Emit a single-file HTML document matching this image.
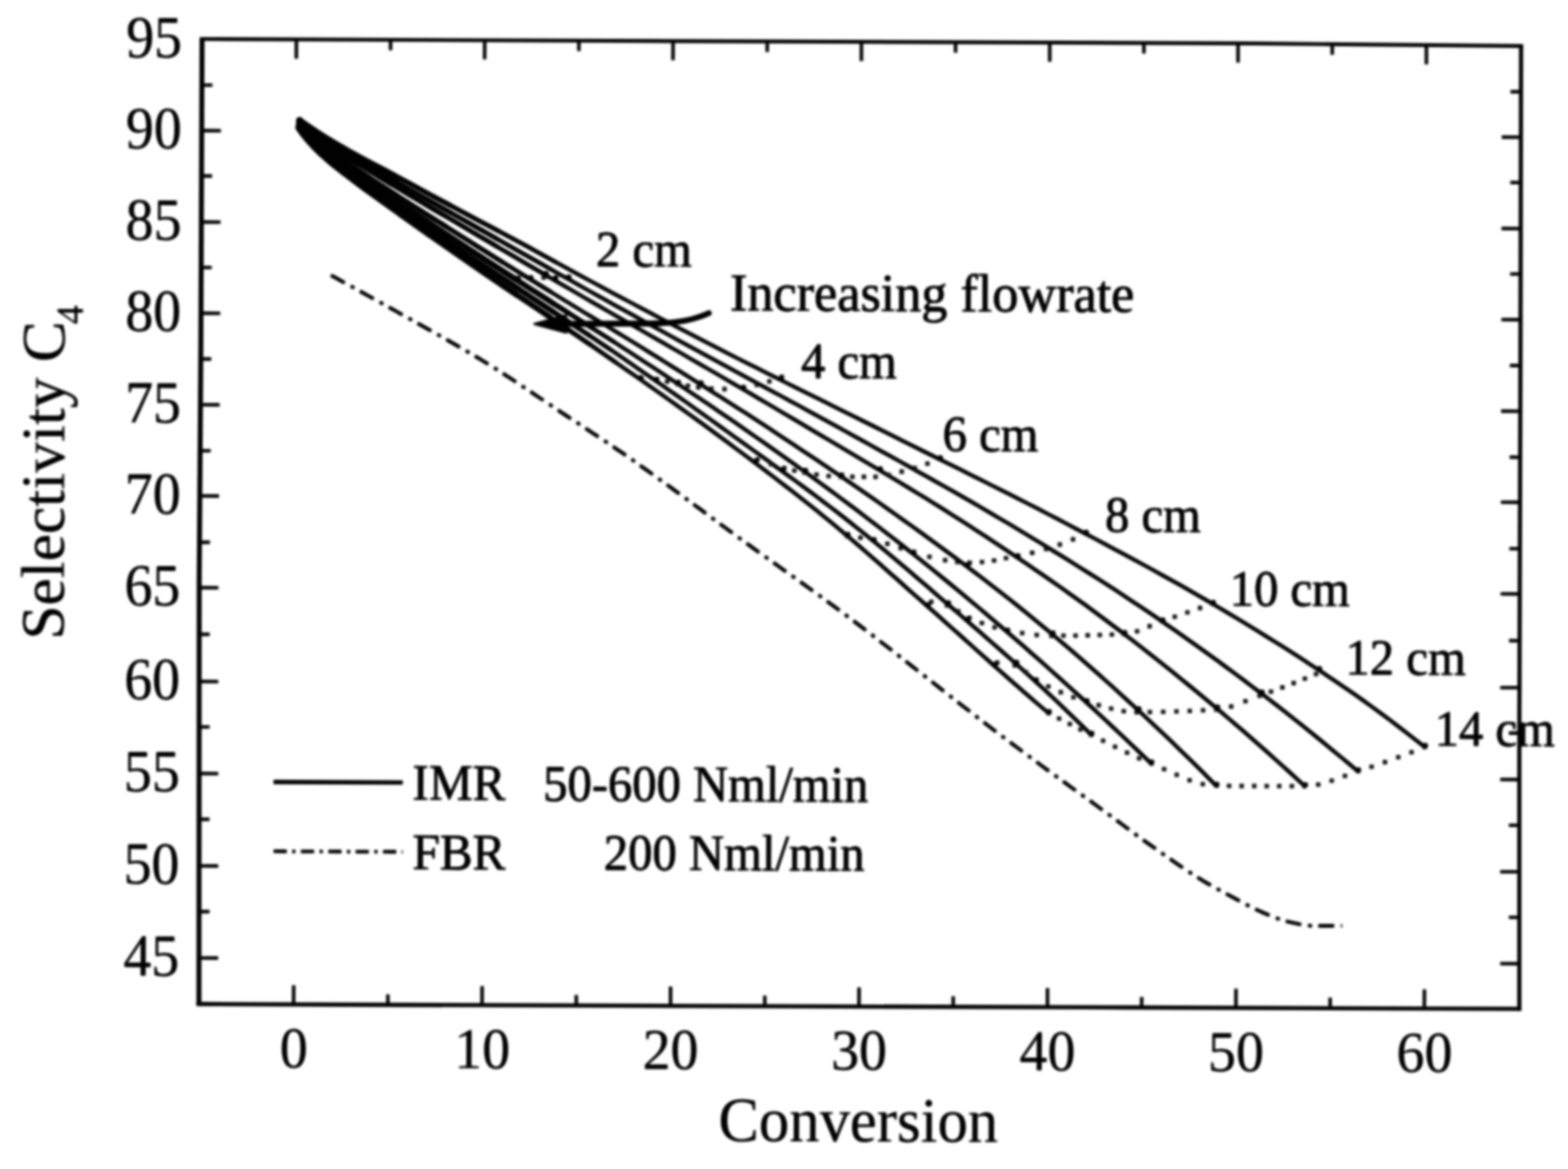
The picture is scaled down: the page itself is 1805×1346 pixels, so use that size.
<!DOCTYPE html>
<html lang="en">
<head>
<meta charset="utf-8">
<title>Selectivity C4 vs Conversion</title>
<style>
html,body{margin:0;padding:0;background:#fff;}
body{width:1805px;height:1346px;overflow:hidden;}
svg{display:block;}
svg text{font-family:"Liberation Serif","Times New Roman",Times,serif;fill:#050505;}
</style>
</head>
<body>
<svg xmlns="http://www.w3.org/2000/svg" width="1805" height="1346" viewBox="0 0 1805 1346">
<defs>
<filter id="scan" x="0" y="0" width="1805" height="1346" filterUnits="userSpaceOnUse" color-interpolation-filters="sRGB">
<feGaussianBlur stdDeviation="1.5"/>
<feComponentTransfer>
<feFuncR type="gamma" amplitude="1" exponent="1.25" offset="0"/>
<feFuncG type="gamma" amplitude="1" exponent="1.25" offset="0"/>
<feFuncB type="gamma" amplitude="1" exponent="1.25" offset="0"/>
</feComponentTransfer>
</filter>
</defs>
<g filter="url(#scan)">
<rect width="1805" height="1346" fill="#fff"/>
<path d="M230 44.9 L900 47.8 L1444 50 L1753.1 53" fill="none" stroke="#050505" stroke-width="3.9"/>
<path d="M1751 51.1 L1750.3 400 L1749 835 L1749 1163.7" fill="none" stroke="#050505" stroke-width="4.3"/>
<path d="M1751.1 1161.6 L1300 1160 L900 1158.6 L450 1157 L226.4 1156" fill="none" stroke="#050505" stroke-width="4.3"/>
<path d="M229 1158.1 L229.3 670 L231.2 400 L232.6 43" fill="none" stroke="#050505" stroke-width="5.2"/>
<path d="M232.4 98L244.4 98 M1750.9 105.6L1738.9 105.6 M232.2 150.4L254.2 150.5 M1750.8 158L1728.8 157.9 M232 202.6L244 202.6 M1750.7 210.2L1738.7 210.1 M231.8 255.6L253.8 255.7 M1750.6 263.2L1728.6 263.1 M231.6 308L243.6 308 M1750.5 315.5L1738.5 315.5 M231.4 360.6L253.4 360.7 M1750.4 368.1L1728.4 368 M231.1 413.4L243.1 413.4 M1750.2 420.9L1738.2 420.9 M230.7 466L252.7 466.1 M1750.1 473.5L1728.1 473.4 M230.4 519L242.4 519 M1749.9 526.5L1737.9 526.4 M230 571L252 571.1 M1749.8 578.4L1727.8 578.3 M229.6 624.4L241.6 624.4 M1749.6 631.8L1737.6 631.7 M229.3 676.6L251.3 676.7 M1749.5 683.9L1727.5 683.8 M229.3 730.4L241.3 730.4 M1749.3 737.7L1737.3 737.6 M229.2 784.6L251.2 784.7 M1749.1 791.8L1727.1 791.7 M229.2 837L241.2 837 M1749 844.1L1737 844.1 M229.2 890.6L251.2 890.7 M1749 897.6L1727 897.5 M229.1 943.4L241.1 943.4 M1749 950.3L1737 950.3 M229.1 997L251.1 997.1 M1749 1003.8L1727 1003.7 M229.1 1049.6L241.1 1049.6 M1749 1056.3L1737 1056.3 M229 1103L251 1103.1 M1749 1109.6L1727 1109.5 M338 1156.5L338.1 1134.5 M341.2 45.4L341.1 67.4 M446.5 1157L446.5 1145 M449.6 45.8L449.6 57.8 M554.9 1157.4L555 1135.4 M558 46.3L557.9 68.3 M663.4 1157.8L663.4 1145.8 M666.4 46.8L666.4 58.8 M771.9 1158.1L771.9 1136.1 M774.8 47.3L774.7 69.3 M880.4 1158.5L880.4 1146.5 M883.2 47.7L883.2 59.7 M988.8 1158.9L988.9 1136.9 M991.6 48.2L991.6 70.2 M1097.3 1159.3L1097.3 1147.3 M1100 48.6L1100 60.6 M1205.8 1159.7L1205.8 1137.7 M1208.4 49L1208.4 71 M1314.2 1160.1L1314.3 1148.1 M1316.8 49.5L1316.8 61.5 M1422.7 1160.4L1422.8 1138.4 M1425.2 49.9L1425.2 71.9 M1531.2 1160.8L1531.2 1148.8 M1533.6 50.9L1533.6 62.9 M1639.6 1161.2L1639.7 1139.2 M1642 51.9L1642 73.9" fill="none" stroke="#050505" stroke-width="3.6"/>
<text x="141.9" y="1123.3" font-size="68.8" textLength="64.3" lengthAdjust="spacingAndGlyphs" transform="rotate(0.2 141.9 1123.3)">45</text>
<text x="142.2" y="1017.3" font-size="68.8" textLength="64.3" lengthAdjust="spacingAndGlyphs" transform="rotate(0.2 142.2 1017.3)">50</text>
<text x="142.5" y="910.9" font-size="68.8" textLength="64.3" lengthAdjust="spacingAndGlyphs" transform="rotate(0.2 142.5 910.9)">55</text>
<text x="142.9" y="804.9" font-size="68.8" textLength="64.3" lengthAdjust="spacingAndGlyphs" transform="rotate(0.2 142.9 804.9)">60</text>
<text x="143.2" y="696.9" font-size="68.8" textLength="64.3" lengthAdjust="spacingAndGlyphs" transform="rotate(0.2 143.2 696.9)">65</text>
<text x="143.5" y="591.3" font-size="68.8" textLength="64.3" lengthAdjust="spacingAndGlyphs" transform="rotate(0.2 143.5 591.3)">70</text>
<text x="143.9" y="486.3" font-size="68.8" textLength="64.3" lengthAdjust="spacingAndGlyphs" transform="rotate(0.2 143.9 486.3)">75</text>
<text x="144.2" y="380.9" font-size="68.8" textLength="64.3" lengthAdjust="spacingAndGlyphs" transform="rotate(0.2 144.2 380.9)">80</text>
<text x="144.5" y="275.9" font-size="68.8" textLength="64.3" lengthAdjust="spacingAndGlyphs" transform="rotate(0.2 144.5 275.9)">85</text>
<text x="144.8" y="170.7" font-size="68.8" textLength="64.3" lengthAdjust="spacingAndGlyphs" transform="rotate(0.2 144.8 170.7)">90</text>
<text x="145.2" y="65.9" font-size="68.8" textLength="64.3" lengthAdjust="spacingAndGlyphs" transform="rotate(0.2 145.2 65.9)">95</text>
<text x="321.9" y="1229" font-size="66.5" textLength="32.2" lengthAdjust="spacingAndGlyphs" transform="rotate(0.2 321.9 1229)">0</text>
<text x="522.8" y="1229.8" font-size="66.5" textLength="64.3" lengthAdjust="spacingAndGlyphs" transform="rotate(0.2 522.8 1229.8)">10</text>
<text x="739.7" y="1230.7" font-size="66.5" textLength="64.3" lengthAdjust="spacingAndGlyphs" transform="rotate(0.2 739.7 1230.7)">20</text>
<text x="956.7" y="1231.5" font-size="66.5" textLength="64.3" lengthAdjust="spacingAndGlyphs" transform="rotate(0.2 956.7 1231.5)">30</text>
<text x="1173.6" y="1232.3" font-size="66.5" textLength="64.3" lengthAdjust="spacingAndGlyphs" transform="rotate(0.2 1173.6 1232.3)">40</text>
<text x="1390.5" y="1233.2" font-size="66.5" textLength="64.3" lengthAdjust="spacingAndGlyphs" transform="rotate(0.2 1390.5 1233.2)">50</text>
<text x="1607.5" y="1234" font-size="66.5" textLength="64.3" lengthAdjust="spacingAndGlyphs" transform="rotate(0.2 1607.5 1234)">60</text>
<text x="827" y="1313.7" font-size="72.5" textLength="322" lengthAdjust="spacingAndGlyphs" transform="rotate(0.2 827 1313.7)">Conversion</text>
<text x="73" y="736.5" font-size="70.6" transform="rotate(-89.8 73 736.5)">Selectivity C<tspan font-size="44" dx="-3.5" dy="21">4</tspan></text>
<path d="M315 900.4L463.5 901" fill="none" stroke="#050505" stroke-width="4.6"/>
<path d="M315 980.2L463.5 980.8" fill="none" stroke="#050505" stroke-width="3.8" stroke-dasharray="15 6.5 3.5 6.5"/>
<text x="474.8" y="920.8" font-size="59" textLength="106.9" lengthAdjust="spacingAndGlyphs" transform="rotate(0.2 474.8 920.8)" stroke="#050505" stroke-width="0.55">IMR</text>
<text x="625.3" y="922" font-size="59" textLength="374.2" lengthAdjust="spacingAndGlyphs" transform="rotate(0.2 625.3 922)" stroke="#050505" stroke-width="0.55">50-600 Nml/min</text>
<text x="474.8" y="1000.8" font-size="59" textLength="107" lengthAdjust="spacingAndGlyphs" transform="rotate(0.2 474.8 1000.8)" stroke="#050505" stroke-width="0.55">FBR</text>
<text x="695" y="1001.5" font-size="59" textLength="300.2" lengthAdjust="spacingAndGlyphs" transform="rotate(0.2 695 1001.5)" stroke="#050505" stroke-width="0.55">200 Nml/min</text>
<text x="686" y="306.6" font-size="58.5" textLength="110.4" lengthAdjust="spacingAndGlyphs" transform="rotate(0.2 686 306.6)" stroke="#050505" stroke-width="0.55">2 cm</text>
<text x="840.3" y="357.5" font-size="61.5" textLength="465.5" lengthAdjust="spacingAndGlyphs" transform="rotate(0.2 840.3 357.5)" stroke="#050505" stroke-width="0.55">Increasing flowrate</text>
<text x="922" y="435.3" font-size="58.5" textLength="110.4" lengthAdjust="spacingAndGlyphs" transform="rotate(0.2 922 435.3)" stroke="#050505" stroke-width="0.55">4 cm</text>
<text x="1085" y="519.3" font-size="58.5" textLength="110.4" lengthAdjust="spacingAndGlyphs" transform="rotate(0.2 1085 519.3)" stroke="#050505" stroke-width="0.55">6 cm</text>
<text x="1272" y="612.3" font-size="58.5" textLength="110.4" lengthAdjust="spacingAndGlyphs" transform="rotate(0.2 1272 612.3)" stroke="#050505" stroke-width="0.55">8 cm</text>
<text x="1415.5" y="697.3" font-size="58.5" textLength="138.4" lengthAdjust="spacingAndGlyphs" transform="rotate(0.2 1415.5 697.3)" stroke="#050505" stroke-width="0.55">10 cm</text>
<text x="1548.8" y="776.6" font-size="58.5" textLength="138.4" lengthAdjust="spacingAndGlyphs" transform="rotate(0.2 1548.8 776.6)" stroke="#050505" stroke-width="0.55">12 cm</text>
<text x="1651.5" y="858.6" font-size="58.5" textLength="138.4" lengthAdjust="spacingAndGlyphs" transform="rotate(0.2 1651.5 858.6)" stroke="#050505" stroke-width="0.55">14 cm</text>
<path d="M345 138.5 L355.3 145.6 L365.7 152.5 L376.2 159.2 L386.9 165.6 L397.7 171.8 L408.6 177.8 L419.6 183.8 L430.6 189.6 L441.7 195.4 L452.7 201.2 L463.7 207 L474.7 213 L485.6 219 L496.6 225 L507.6 230.9 L518.6 236.7 L529.6 242.6 L540.6 248.4 L551.6 254.3 L562.7 260.1 L573.7 265.9 L584.7 271.8 L595.7 277.7 L606.7 283.6 L617.6 289.6 L628.5 295.6 L639.4 301.6 L650.4 307.6 L661.3 313.6 L672.3 319.6 L683.3 325.5 L694.2 331.4 L705.2 337.3 L716.2 343.2 L727.3 349 L738.3 354.9 L749.3 360.7 L760.3 366.6 L771.4 372.4 L782.4 378.2 L793.5 383.9 L804.5 389.7 L815.6 395.4 L826.7 401.1 L837.8 406.8 L848.9 412.5 L860 418.1 L871.2 423.7 L882.3 429.3 L893.5 434.9 L904.6 440.5 L915.8 446.1 L926.9 451.6 L938.1 457.2 L949.3 462.7 L960.5 468.3 L971.6 473.8 L982.8 479.4 L994 485 L1005.1 490.5 L1016.3 496.1 L1027.4 501.7 L1038.6 507.3 L1049.7 512.9 L1060.9 518.5 L1072 524 L1083.2 529.6 L1094.4 535.1 L1105.6 540.7 L1116.7 546.3 L1127.9 551.9 L1139 557.5 L1150.2 563.1 L1161.3 568.7 L1172.4 574.3 L1183.5 580 L1194.6 585.7 L1205.7 591.5 L1216.7 597.2 L1227.8 603 L1238.8 608.9 L1249.8 614.7 L1260.9 620.5 L1271.9 626.4 L1282.9 632.3 L1293.9 638.2 L1304.9 644.1 L1315.8 650 L1326.8 656 L1337.7 662.1 L1348.6 668.1 L1359.5 674.2 L1370.3 680.4 L1381.1 686.6 L1391.9 692.9 L1402.6 699.2 L1413.3 705.6 L1424 712 L1434.7 718.5 L1445.3 725 L1455.9 731.6 L1466.5 738.2 L1477.1 744.8 L1487.6 751.6 L1498.1 758.3 L1508.6 765.2 L1519 772.1 L1529.3 779 L1539.7 786 L1549.9 793 L1560.2 800.1 L1570.3 807.3 L1580.5 814.6 L1590.5 822 L1600.5 829.4 L1610.4 837 L1620.3 844.6 L1630.2 852.3 L1640 860" fill="none" stroke="#050505" stroke-width="4.2" stroke-linecap="round" stroke-linejoin="round"/>
<path d="M345 138.5 L355.3 145.6 L365.7 152.5 L376.2 159.2 L386.9 165.6 L397.7 171.8 L408.6 177.8 L419.6 183.8 L430.6 189.6 L441.7 195.4 L452.7 201.2 L463.7 207 L474.7 213 L485.6 219 L496.6 225 L507.6 230.9 L518.6 236.7 L529.6 242.6 L540.6 248.4 L551.6 254.3 L562.7 260.1 L573.7 265.9 L584.7 271.8 L595.7 277.7 L606.7 283.6 L617.6 289.6 L628.5 295.6 L639.4 301.6" fill="none" stroke="#050505" stroke-width="4.5" stroke-linecap="round" stroke-linejoin="round" class="tp"/>
<path d="M345 138.5 L355.3 145.6 L365.7 152.5 L376.2 159.2 L386.9 165.6 L397.7 171.8 L408.6 177.8 L419.6 183.8 L430.6 189.6 L441.7 195.4 L452.7 201.2 L463.7 207 L474.7 213 L485.6 219 L496.6 225 L507.6 230.9 L518.6 236.7 L529.6 242.6 L540.6 248.4 L551.6 254.3 L562.7 260.1 L573.7 265.9" fill="none" stroke="#050505" stroke-width="4.9" stroke-linecap="round" stroke-linejoin="round" class="tp"/>
<path d="M345 138.5 L355.3 145.6 L365.7 152.5 L376.2 159.2 L386.9 165.6 L397.7 171.8 L408.6 177.8 L419.6 183.8 L430.6 189.6 L441.7 195.4 L452.7 201.2 L463.7 207 L474.7 213 L485.6 219 L496.6 225 L507.6 230.9 L518.6 236.7" fill="none" stroke="#050505" stroke-width="5.3" stroke-linecap="round" stroke-linejoin="round" class="tp"/>
<path d="M345 138.5 L355.3 145.6 L365.7 152.5 L376.2 159.2 L386.9 165.6 L397.7 171.8 L408.6 177.8 L419.6 183.8 L430.6 189.6 L441.7 195.4 L452.7 201.2" fill="none" stroke="#050505" stroke-width="5.7" stroke-linecap="round" stroke-linejoin="round" class="tp"/>
<path d="M345 138.5 L355.3 145.6 L365.7 152.5 L376.2 159.2 L386.9 165.6 L397.7 171.8" fill="none" stroke="#050505" stroke-width="6.1" stroke-linecap="round" stroke-linejoin="round" class="tp"/>
<path d="M345 138.5 L354.3 146.1 L363.9 153.4 L373.7 160.4 L383.8 167 L394 173.4 L404.3 179.7 L414.7 185.7 L425.1 191.7 L435.6 197.6 L446 203.6 L456.5 209.6 L466.9 215.6 L477.4 221.6 L487.8 227.5 L498.3 233.4 L508.8 239.3 L519.3 245.2 L529.8 251.1 L540.3 257 L550.8 263 L561.3 268.9 L571.7 274.8 L582.2 280.8 L592.7 286.7 L603.2 292.6 L613.7 298.5 L624.2 304.4 L634.6 310.4 L645.1 316.3 L655.6 322.2 L666.1 328.1 L676.6 334 L687.1 339.8 L697.6 345.7 L708.1 351.6 L718.7 357.4 L729.2 363.2 L739.7 369.1 L750.3 374.9 L760.8 380.7 L771.4 386.5 L781.9 392.3 L792.5 398.1 L803 403.9 L813.6 409.6 L824.2 415.4 L834.8 421.1 L845.3 426.9 L855.9 432.6 L866.5 438.4 L877.1 444.1 L887.7 449.8 L898.3 455.5 L908.9 461.3 L919.5 467 L930 472.8 L940.6 478.6 L951.1 484.3 L961.7 490.1 L972.2 496 L982.8 501.8 L993.3 507.7 L1003.8 513.5 L1014.3 519.3 L1024.9 525.2 L1035.4 531 L1045.9 536.9 L1056.4 542.8 L1066.9 548.6 L1077.4 554.6 L1087.9 560.5 L1098.4 566.4 L1108.8 572.4 L1119.3 578.4 L1129.7 584.5 L1140.1 590.6 L1150.4 596.7 L1160.8 602.8 L1171.1 609 L1181.4 615.2 L1191.7 621.5 L1202 627.8 L1212.2 634.1 L1222.5 640.4 L1232.7 646.8 L1242.9 653.2 L1253.1 659.6 L1263.3 666.1 L1273.4 672.6 L1283.5 679.1 L1293.6 685.7 L1303.6 692.4 L1313.6 699.1 L1323.6 705.8 L1333.5 712.6 L1343.4 719.4 L1353.3 726.3 L1363.1 733.2 L1373 740.2 L1382.8 747.2 L1392.5 754.2 L1402.3 761.3 L1412 768.5 L1421.7 775.6 L1431.3 782.8 L1440.9 790.1 L1450.5 797.3 L1460.1 804.6 L1469.6 812 L1479.1 819.4 L1488.5 826.9 L1498 834.3 L1507.3 841.9 L1516.7 849.5 L1526 857.1 L1535.3 864.8 L1544.6 872.5 L1553.8 880.2 L1563 888" fill="none" stroke="#050505" stroke-width="4.2" stroke-linecap="round" stroke-linejoin="round"/>
<path d="M345 138.5 L354.3 146.1 L363.9 153.4 L373.7 160.4 L383.8 167 L394 173.4 L404.3 179.7 L414.7 185.7 L425.1 191.7 L435.6 197.6 L446 203.6 L456.5 209.6 L466.9 215.6 L477.4 221.6 L487.8 227.5 L498.3 233.4 L508.8 239.3 L519.3 245.2 L529.8 251.1 L540.3 257 L550.8 263 L561.3 268.9 L571.7 274.8 L582.2 280.8 L592.7 286.7 L603.2 292.6 L613.7 298.5 L624.2 304.4 L634.6 310.4" fill="none" stroke="#050505" stroke-width="4.5" stroke-linecap="round" stroke-linejoin="round" class="tp"/>
<path d="M345 138.5 L354.3 146.1 L363.9 153.4 L373.7 160.4 L383.8 167 L394 173.4 L404.3 179.7 L414.7 185.7 L425.1 191.7 L435.6 197.6 L446 203.6 L456.5 209.6 L466.9 215.6 L477.4 221.6 L487.8 227.5 L498.3 233.4 L508.8 239.3 L519.3 245.2 L529.8 251.1 L540.3 257 L550.8 263 L561.3 268.9 L571.7 274.8" fill="none" stroke="#050505" stroke-width="4.9" stroke-linecap="round" stroke-linejoin="round" class="tp"/>
<path d="M345 138.5 L354.3 146.1 L363.9 153.4 L373.7 160.4 L383.8 167 L394 173.4 L404.3 179.7 L414.7 185.7 L425.1 191.7 L435.6 197.6 L446 203.6 L456.5 209.6 L466.9 215.6 L477.4 221.6 L487.8 227.5 L498.3 233.4 L508.8 239.3 L519.3 245.2" fill="none" stroke="#050505" stroke-width="5.3" stroke-linecap="round" stroke-linejoin="round" class="tp"/>
<path d="M345 138.5 L354.3 146.1 L363.9 153.4 L373.7 160.4 L383.8 167 L394 173.4 L404.3 179.7 L414.7 185.7 L425.1 191.7 L435.6 197.6 L446 203.6 L456.5 209.6" fill="none" stroke="#050505" stroke-width="5.7" stroke-linecap="round" stroke-linejoin="round" class="tp"/>
<path d="M345 138.5 L354.3 146.1 L363.9 153.4 L373.7 160.4 L383.8 167 L394 173.4" fill="none" stroke="#050505" stroke-width="6.1" stroke-linecap="round" stroke-linejoin="round" class="tp"/>
<path d="M345 138.5 L353.2 146.8 L362 154.5 L371.3 161.6 L380.8 168.4 L390.5 175 L400.3 181.3 L410.2 187.5 L420.3 193.6 L430.3 199.6 L440.3 205.7 L450.3 211.7 L460.3 217.7 L470.3 223.8 L480.4 229.7 L490.5 235.7 L500.5 241.6 L510.6 247.5 L520.7 253.4 L530.8 259.4 L540.8 265.3 L550.9 271.3 L561 277.2 L571 283.2 L581.1 289.1 L591.2 295 L601.3 301 L611.3 306.9 L621.4 312.8 L631.5 318.7 L641.6 324.6 L651.7 330.4 L661.8 336.3 L672 342.2 L682.1 348.1 L692.2 353.9 L702.3 359.7 L712.5 365.6 L722.6 371.4 L732.8 377.2 L742.9 383 L753.1 388.8 L763.2 394.6 L773.3 400.5 L783.4 406.3 L793.5 412.2 L803.7 418.1 L813.8 424 L823.9 429.8 L834 435.7 L844.1 441.6 L854.2 447.5 L864.3 453.4 L874.3 459.4 L884.4 465.3 L894.5 471.2 L904.6 477.2 L914.6 483.1 L924.7 489.1 L934.7 495.1 L944.8 501.1 L954.8 507 L964.9 513 L974.9 519 L985 525 L995 531 L1005.1 537 L1015.1 543 L1025.1 549 L1035.1 555 L1045.1 561.1 L1055.1 567.2 L1065.1 573.3 L1075 579.5 L1084.9 585.6 L1094.8 591.9 L1104.7 598.2 L1114.5 604.5 L1124.3 610.9 L1134.1 617.3 L1143.8 623.7 L1153.6 630.2 L1163.3 636.7 L1173 643.2 L1182.7 649.8 L1192.4 656.4 L1202 663 L1211.6 669.7 L1221.2 676.4 L1230.7 683.2 L1240.2 690 L1249.7 696.8 L1259.1 703.7 L1268.5 710.7 L1277.8 717.7 L1287.2 724.7 L1296.5 731.8 L1305.7 738.9 L1315 746.1 L1324.2 753.4 L1333.4 760.6 L1342.5 767.9 L1351.6 775.2 L1360.7 782.6 L1369.8 790 L1378.8 797.4 L1387.8 804.9 L1396.8 812.4 L1405.7 819.9 L1414.6 827.5 L1423.5 835.1 L1432.3 842.7 L1441.1 850.4 L1449.9 858.1 L1458.7 865.9 L1467.4 873.7 L1476.1 881.5 L1484.8 889.4 L1493.4 897.3 L1502 905.2" fill="none" stroke="#050505" stroke-width="4.2" stroke-linecap="round" stroke-linejoin="round"/>
<path d="M345 138.5 L353.2 146.8 L362 154.5 L371.3 161.6 L380.8 168.4 L390.5 175 L400.3 181.3 L410.2 187.5 L420.3 193.6 L430.3 199.6 L440.3 205.7 L450.3 211.7 L460.3 217.7 L470.3 223.8 L480.4 229.7 L490.5 235.7 L500.5 241.6 L510.6 247.5 L520.7 253.4 L530.8 259.4 L540.8 265.3 L550.9 271.3 L561 277.2 L571 283.2 L581.1 289.1 L591.2 295 L601.3 301 L611.3 306.9 L621.4 312.8 L631.5 318.7" fill="none" stroke="#050505" stroke-width="4.5" stroke-linecap="round" stroke-linejoin="round" class="tp"/>
<path d="M345 138.5 L353.2 146.8 L362 154.5 L371.3 161.6 L380.8 168.4 L390.5 175 L400.3 181.3 L410.2 187.5 L420.3 193.6 L430.3 199.6 L440.3 205.7 L450.3 211.7 L460.3 217.7 L470.3 223.8 L480.4 229.7 L490.5 235.7 L500.5 241.6 L510.6 247.5 L520.7 253.4 L530.8 259.4 L540.8 265.3 L550.9 271.3 L561 277.2 L571 283.2" fill="none" stroke="#050505" stroke-width="4.9" stroke-linecap="round" stroke-linejoin="round" class="tp"/>
<path d="M345 138.5 L353.2 146.8 L362 154.5 L371.3 161.6 L380.8 168.4 L390.5 175 L400.3 181.3 L410.2 187.5 L420.3 193.6 L430.3 199.6 L440.3 205.7 L450.3 211.7 L460.3 217.7 L470.3 223.8 L480.4 229.7 L490.5 235.7 L500.5 241.6 L510.6 247.5" fill="none" stroke="#050505" stroke-width="5.3" stroke-linecap="round" stroke-linejoin="round" class="tp"/>
<path d="M345 138.5 L353.2 146.8 L362 154.5 L371.3 161.6 L380.8 168.4 L390.5 175 L400.3 181.3 L410.2 187.5 L420.3 193.6 L430.3 199.6 L440.3 205.7 L450.3 211.7" fill="none" stroke="#050505" stroke-width="5.7" stroke-linecap="round" stroke-linejoin="round" class="tp"/>
<path d="M345 138.5 L353.2 146.8 L362 154.5 L371.3 161.6 L380.8 168.4 L390.5 175" fill="none" stroke="#050505" stroke-width="6.1" stroke-linecap="round" stroke-linejoin="round" class="tp"/>
<path d="M345 138.5 L351 147.7 L358.4 155.7 L366.9 162.9 L375.3 169.9 L384.1 176.6 L392.9 183.1 L402 189.3 L411.2 195.4 L420.4 201.4 L429.5 207.5 L438.7 213.5 L448 219.5 L457.2 225.4 L466.5 231.3 L475.8 237.2 L485.1 243.1 L494.4 248.9 L503.7 254.8 L513 260.6 L522.3 266.5 L531.6 272.4 L540.9 278.2 L550.2 284.1 L559.5 289.9 L568.8 295.8 L578.1 301.6 L587.5 307.4 L596.8 313.2 L606.2 319 L615.5 324.7 L624.9 330.5 L634.2 336.2 L643.6 342 L653 347.8 L662.4 353.5 L671.7 359.2 L681.1 364.9 L690.5 370.6 L699.9 376.3 L709.3 382.1 L718.7 387.8 L728.1 393.5 L737.4 399.3 L746.7 405.1 L756.1 410.9 L765.4 416.8 L774.7 422.6 L784 428.4 L793.3 434.3 L802.6 440.1 L811.9 446 L821.2 451.9 L830.5 457.8 L839.8 463.7 L849 469.7 L858.3 475.6 L867.5 481.6 L876.7 487.6 L885.9 493.6 L895.1 499.7 L904.2 505.7 L913.4 511.8 L922.6 517.9 L931.7 524 L940.8 530.1 L950 536.3 L959.1 542.4 L968.2 548.6 L977.2 554.8 L986.3 561 L995.3 567.3 L1004.4 573.6 L1013.4 579.9 L1022.3 586.2 L1031.3 592.6 L1040.2 599 L1049.2 605.4 L1058.1 611.8 L1067 618.3 L1075.9 624.7 L1084.7 631.2 L1093.6 637.8 L1102.4 644.3 L1111.2 650.9 L1120 657.5 L1128.8 664.2 L1137.5 670.9 L1146.2 677.6 L1154.9 684.4 L1163.5 691.2 L1172.1 698 L1180.6 704.9 L1189.1 711.9 L1197.6 718.9 L1206.1 725.9 L1214.5 733 L1222.9 740.1 L1231.2 747.2 L1239.6 754.4 L1247.9 761.6 L1256.1 768.9 L1264.4 776.2 L1272.6 783.5 L1280.8 790.8 L1288.9 798.2 L1297 805.6 L1305.1 813 L1313.2 820.5 L1321.2 828 L1329.2 835.5 L1337.2 843 L1345.2 850.6 L1353.1 858.3 L1361 865.9 L1368.8 873.6 L1376.7 881.3 L1384.5 889.1 L1392.3 896.9 L1400 904.7" fill="none" stroke="#050505" stroke-width="4.2" stroke-linecap="round" stroke-linejoin="round"/>
<path d="M345 138.5 L351 147.7 L358.4 155.7 L366.9 162.9 L375.3 169.9 L384.1 176.6 L392.9 183.1 L402 189.3 L411.2 195.4 L420.4 201.4 L429.5 207.5 L438.7 213.5 L448 219.5 L457.2 225.4 L466.5 231.3 L475.8 237.2 L485.1 243.1 L494.4 248.9 L503.7 254.8 L513 260.6 L522.3 266.5 L531.6 272.4 L540.9 278.2 L550.2 284.1 L559.5 289.9 L568.8 295.8 L578.1 301.6 L587.5 307.4 L596.8 313.2 L606.2 319 L615.5 324.7 L624.9 330.5 L634.2 336.2" fill="none" stroke="#050505" stroke-width="4.5" stroke-linecap="round" stroke-linejoin="round" class="tp"/>
<path d="M345 138.5 L351 147.7 L358.4 155.7 L366.9 162.9 L375.3 169.9 L384.1 176.6 L392.9 183.1 L402 189.3 L411.2 195.4 L420.4 201.4 L429.5 207.5 L438.7 213.5 L448 219.5 L457.2 225.4 L466.5 231.3 L475.8 237.2 L485.1 243.1 L494.4 248.9 L503.7 254.8 L513 260.6 L522.3 266.5 L531.6 272.4 L540.9 278.2 L550.2 284.1 L559.5 289.9 L568.8 295.8 L578.1 301.6" fill="none" stroke="#050505" stroke-width="4.9" stroke-linecap="round" stroke-linejoin="round" class="tp"/>
<path d="M345 138.5 L351 147.7 L358.4 155.7 L366.9 162.9 L375.3 169.9 L384.1 176.6 L392.9 183.1 L402 189.3 L411.2 195.4 L420.4 201.4 L429.5 207.5 L438.7 213.5 L448 219.5 L457.2 225.4 L466.5 231.3 L475.8 237.2 L485.1 243.1 L494.4 248.9 L503.7 254.8 L513 260.6" fill="none" stroke="#050505" stroke-width="5.3" stroke-linecap="round" stroke-linejoin="round" class="tp"/>
<path d="M345 138.5 L351 147.7 L358.4 155.7 L366.9 162.9 L375.3 169.9 L384.1 176.6 L392.9 183.1 L402 189.3 L411.2 195.4 L420.4 201.4 L429.5 207.5 L438.7 213.5 L448 219.5 L457.2 225.4" fill="none" stroke="#050505" stroke-width="5.7" stroke-linecap="round" stroke-linejoin="round" class="tp"/>
<path d="M345 138.5 L351 147.7 L358.4 155.7 L366.9 162.9 L375.3 169.9 L384.1 176.6 L392.9 183.1" fill="none" stroke="#050505" stroke-width="6.1" stroke-linecap="round" stroke-linejoin="round" class="tp"/>
<path d="M345 138.5 L349.2 148.1 L355.4 156.1 L363.1 163.2 L370.8 170.2 L378.7 177 L386.8 183.4 L395.1 189.5 L403.6 195.5 L412 201.5 L420.5 207.4 L429 213.3 L437.6 219.1 L446.2 224.9 L454.8 230.7 L463.4 236.4 L472 242.1 L480.7 247.8 L489.3 253.6 L498 259.3 L506.6 265 L515.3 270.7 L523.9 276.4 L532.6 282.1 L541.2 287.8 L549.9 293.4 L558.6 299.1 L567.3 304.7 L576 310.3 L584.7 315.9 L593.4 321.5 L602.1 327.1 L610.8 332.7 L619.6 338.2 L628.3 343.8 L637 349.4 L645.8 354.9 L654.5 360.5 L663.3 366 L672 371.6 L680.8 377.1 L689.5 382.7 L698.2 388.2 L707 393.8 L715.6 399.4 L724.3 405.1 L733 410.8 L741.7 416.4 L750.3 422.1 L759 427.8 L767.6 433.5 L776.2 439.3 L784.9 445 L793.5 450.7 L802.1 456.5 L810.7 462.3 L819.3 468.1 L827.8 473.9 L836.4 479.8 L844.9 485.6 L853.4 491.5 L861.9 497.4 L870.4 503.4 L878.9 509.3 L887.3 515.3 L895.8 521.3 L904.2 527.3 L912.7 533.3 L921.1 539.4 L929.5 545.4 L937.9 551.5 L946.2 557.6 L954.6 563.8 L962.9 569.9 L971.2 576.1 L979.5 582.3 L987.8 588.5 L996 594.8 L1004.2 601.1 L1012.4 607.4 L1020.6 613.8 L1028.8 620.1 L1036.9 626.5 L1045 633 L1053.1 639.4 L1061.2 645.9 L1069.3 652.4 L1077.3 658.9 L1085.4 665.5 L1093.4 672 L1101.4 678.6 L1109.3 685.2 L1117.3 691.9 L1125.2 698.5 L1133.1 705.2 L1141 711.9 L1148.9 718.6 L1156.8 725.3 L1164.6 732.1 L1172.4 738.9 L1180.2 745.7 L1188 752.6 L1195.8 759.4 L1203.5 766.3 L1211.3 773.2 L1219 780.1 L1226.7 787 L1234.4 794 L1242 800.9 L1249.7 807.9 L1257.3 814.9 L1264.9 822 L1272.5 829 L1280 836.1 L1287.6 843.2 L1295.1 850.3 L1302.6 857.5 L1310.1 864.6 L1317.6 871.8 L1325 879" fill="none" stroke="#050505" stroke-width="4.2" stroke-linecap="round" stroke-linejoin="round"/>
<path d="M345 138.5 L349.2 148.1 L355.4 156.1 L363.1 163.2 L370.8 170.2 L378.7 177 L386.8 183.4 L395.1 189.5 L403.6 195.5 L412 201.5 L420.5 207.4 L429 213.3 L437.6 219.1 L446.2 224.9 L454.8 230.7 L463.4 236.4 L472 242.1 L480.7 247.8 L489.3 253.6 L498 259.3 L506.6 265 L515.3 270.7 L523.9 276.4 L532.6 282.1 L541.2 287.8 L549.9 293.4 L558.6 299.1 L567.3 304.7 L576 310.3 L584.7 315.9 L593.4 321.5 L602.1 327.1 L610.8 332.7 L619.6 338.2 L628.3 343.8 L637 349.4 L645.8 354.9 L654.5 360.5 L663.3 366 L672 371.6 L680.8 377.1 L689.5 382.7 L698.2 388.2 L707 393.8" fill="none" stroke="#050505" stroke-width="4.5" stroke-linecap="round" stroke-linejoin="round" class="tp"/>
<path d="M345 138.5 L349.2 148.1 L355.4 156.1 L363.1 163.2 L370.8 170.2 L378.7 177 L386.8 183.4 L395.1 189.5 L403.6 195.5 L412 201.5 L420.5 207.4 L429 213.3 L437.6 219.1 L446.2 224.9 L454.8 230.7 L463.4 236.4 L472 242.1 L480.7 247.8 L489.3 253.6 L498 259.3 L506.6 265 L515.3 270.7 L523.9 276.4 L532.6 282.1 L541.2 287.8 L549.9 293.4 L558.6 299.1 L567.3 304.7 L576 310.3 L584.7 315.9 L593.4 321.5 L602.1 327.1 L610.8 332.7 L619.6 338.2 L628.3 343.8 L637 349.4 L645.8 354.9 L654.5 360.5 L663.3 366 L672 371.6 L680.8 377.1" fill="none" stroke="#050505" stroke-width="4.9" stroke-linecap="round" stroke-linejoin="round" class="tp"/>
<path d="M345 138.5 L349.2 148.1 L355.4 156.1 L363.1 163.2 L370.8 170.2 L378.7 177 L386.8 183.4 L395.1 189.5 L403.6 195.5 L412 201.5 L420.5 207.4 L429 213.3 L437.6 219.1 L446.2 224.9 L454.8 230.7 L463.4 236.4 L472 242.1 L480.7 247.8 L489.3 253.6 L498 259.3 L506.6 265 L515.3 270.7 L523.9 276.4 L532.6 282.1 L541.2 287.8 L549.9 293.4 L558.6 299.1 L567.3 304.7 L576 310.3 L584.7 315.9 L593.4 321.5 L602.1 327.1 L610.8 332.7 L619.6 338.2 L628.3 343.8 L637 349.4 L645.8 354.9 L654.5 360.5" fill="none" stroke="#050505" stroke-width="5.4" stroke-linecap="round" stroke-linejoin="round" class="tp"/>
<path d="M345 138.5 L349.2 148.1 L355.4 156.1 L363.1 163.2 L370.8 170.2 L378.7 177 L386.8 183.4 L395.1 189.5 L403.6 195.5 L412 201.5 L420.5 207.4 L429 213.3 L437.6 219.1 L446.2 224.9 L454.8 230.7 L463.4 236.4 L472 242.1 L480.7 247.8 L489.3 253.6 L498 259.3 L506.6 265 L515.3 270.7 L523.9 276.4 L532.6 282.1 L541.2 287.8 L549.9 293.4 L558.6 299.1 L567.3 304.7 L576 310.3 L584.7 315.9 L593.4 321.5 L602.1 327.1 L610.8 332.7 L619.6 338.2 L628.3 343.8 L637 349.4" fill="none" stroke="#050505" stroke-width="5.9" stroke-linecap="round" stroke-linejoin="round" class="tp"/>
<path d="M345 138.5 L349.2 148.1 L355.4 156.1 L363.1 163.2 L370.8 170.2 L378.7 177 L386.8 183.4 L395.1 189.5 L403.6 195.5 L412 201.5 L420.5 207.4 L429 213.3 L437.6 219.1 L446.2 224.9 L454.8 230.7 L463.4 236.4 L472 242.1 L480.7 247.8 L489.3 253.6 L498 259.3 L506.6 265 L515.3 270.7 L523.9 276.4 L532.6 282.1 L541.2 287.8 L549.9 293.4 L558.6 299.1 L567.3 304.7 L576 310.3 L584.7 315.9 L593.4 321.5" fill="none" stroke="#050505" stroke-width="6.3" stroke-linecap="round" stroke-linejoin="round" class="tp"/>
<path d="M345 138.5 L349.2 148.1 L355.4 156.1 L363.1 163.2 L370.8 170.2 L378.7 177 L386.8 183.4 L395.1 189.5 L403.6 195.5 L412 201.5 L420.5 207.4 L429 213.3 L437.6 219.1 L446.2 224.9 L454.8 230.7 L463.4 236.4 L472 242.1 L480.7 247.8 L489.3 253.6 L498 259.3" fill="none" stroke="#050505" stroke-width="6.6" stroke-linecap="round" stroke-linejoin="round" class="tp"/>
<path d="M345 138.5 L349.2 148.1 L355.4 156.1 L363.1 163.2 L370.8 170.2 L378.7 177 L386.8 183.4 L395.1 189.5" fill="none" stroke="#050505" stroke-width="6.9" stroke-linecap="round" stroke-linejoin="round" class="tp"/>
<path d="M345 138.5 L347.6 148 L352.5 156 L359.6 163 L366.5 169.9 L373.6 176.6 L381 183 L388.6 189 L396.4 194.8 L404.2 200.6 L412.1 206.4 L419.9 212.1 L427.9 217.8 L435.8 223.4 L443.8 229 L451.8 234.5 L459.8 240 L467.8 245.6 L475.8 251.1 L483.9 256.6 L491.9 262.1 L499.9 267.6 L507.9 273.1 L516 278.6 L524 284 L532.1 289.5 L540.1 295 L548.2 300.4 L556.3 305.8 L564.4 311.2 L572.5 316.6 L580.6 321.9 L588.7 327.3 L596.9 332.7 L605 338 L613.1 343.4 L621.3 348.7 L629.4 354.1 L637.5 359.4 L645.7 364.7 L653.8 370.1 L661.9 375.4 L670.1 380.7 L678.2 386.1 L686.3 391.5 L694.4 396.9 L702.5 402.3 L710.5 407.8 L718.5 413.3 L726.5 418.8 L734.6 424.4 L742.6 429.9 L750.5 435.5 L758.5 441 L766.5 446.6 L774.5 452.2 L782.4 457.8 L790.4 463.4 L798.3 469.1 L806.2 474.7 L814.1 480.4 L822.1 486 L830 491.7 L837.9 497.4 L845.8 503.1 L853.7 508.8 L861.6 514.4 L869.5 520.1 L877.4 525.8 L885.3 531.5 L893.1 537.2 L901 543 L908.9 548.7 L916.7 554.4 L924.6 560.2 L932.4 566 L940.2 571.9 L947.9 577.7 L955.7 583.6 L963.4 589.5 L971.1 595.5 L978.7 601.5 L986.3 607.6 L993.9 613.6 L1001.5 619.8 L1009 625.9 L1016.5 632.2 L1024 638.4 L1031.4 644.6 L1038.8 650.9 L1046.3 657.2 L1053.7 663.6 L1061.1 669.9 L1068.5 676.2 L1075.8 682.6 L1083.2 689 L1090.6 695.3 L1097.9 701.7 L1105.3 708 L1112.7 714.4 L1120 720.8 L1127.4 727.2 L1134.7 733.6 L1142 740 L1149.3 746.4 L1156.6 752.8 L1163.9 759.3 L1171.2 765.8 L1178.4 772.3 L1185.6 778.8 L1192.8 785.4 L1200 792 L1207.1 798.6 L1214.2 805.2 L1221.2 811.9 L1228.2 818.7 L1235.2 825.5 L1242.2 832.3 L1249.1 839.1 L1256 846" fill="none" stroke="#050505" stroke-width="4.2" stroke-linecap="round" stroke-linejoin="round"/>
<path d="M345 138.5 L347.6 148 L352.5 156 L359.6 163 L366.5 169.9 L373.6 176.6 L381 183 L388.6 189 L396.4 194.8 L404.2 200.6 L412.1 206.4 L419.9 212.1 L427.9 217.8 L435.8 223.4 L443.8 229 L451.8 234.5 L459.8 240 L467.8 245.6 L475.8 251.1 L483.9 256.6 L491.9 262.1 L499.9 267.6 L507.9 273.1 L516 278.6 L524 284 L532.1 289.5 L540.1 295 L548.2 300.4 L556.3 305.8 L564.4 311.2 L572.5 316.6 L580.6 321.9 L588.7 327.3 L596.9 332.7 L605 338 L613.1 343.4 L621.3 348.7 L629.4 354.1 L637.5 359.4 L645.7 364.7 L653.8 370.1 L661.9 375.4 L670.1 380.7 L678.2 386.1 L686.3 391.5 L694.4 396.9 L702.5 402.3" fill="none" stroke="#050505" stroke-width="4.5" stroke-linecap="round" stroke-linejoin="round" class="tp"/>
<path d="M345 138.5 L347.6 148 L352.5 156 L359.6 163 L366.5 169.9 L373.6 176.6 L381 183 L388.6 189 L396.4 194.8 L404.2 200.6 L412.1 206.4 L419.9 212.1 L427.9 217.8 L435.8 223.4 L443.8 229 L451.8 234.5 L459.8 240 L467.8 245.6 L475.8 251.1 L483.9 256.6 L491.9 262.1 L499.9 267.6 L507.9 273.1 L516 278.6 L524 284 L532.1 289.5 L540.1 295 L548.2 300.4 L556.3 305.8 L564.4 311.2 L572.5 316.6 L580.6 321.9 L588.7 327.3 L596.9 332.7 L605 338 L613.1 343.4 L621.3 348.7 L629.4 354.1 L637.5 359.4 L645.7 364.7 L653.8 370.1 L661.9 375.4 L670.1 380.7 L678.2 386.1" fill="none" stroke="#050505" stroke-width="4.9" stroke-linecap="round" stroke-linejoin="round" class="tp"/>
<path d="M345 138.5 L347.6 148 L352.5 156 L359.6 163 L366.5 169.9 L373.6 176.6 L381 183 L388.6 189 L396.4 194.8 L404.2 200.6 L412.1 206.4 L419.9 212.1 L427.9 217.8 L435.8 223.4 L443.8 229 L451.8 234.5 L459.8 240 L467.8 245.6 L475.8 251.1 L483.9 256.6 L491.9 262.1 L499.9 267.6 L507.9 273.1 L516 278.6 L524 284 L532.1 289.5 L540.1 295 L548.2 300.4 L556.3 305.8 L564.4 311.2 L572.5 316.6 L580.6 321.9 L588.7 327.3 L596.9 332.7 L605 338 L613.1 343.4 L621.3 348.7 L629.4 354.1 L637.5 359.4 L645.7 364.7 L653.8 370.1" fill="none" stroke="#050505" stroke-width="5.4" stroke-linecap="round" stroke-linejoin="round" class="tp"/>
<path d="M345 138.5 L347.6 148 L352.5 156 L359.6 163 L366.5 169.9 L373.6 176.6 L381 183 L388.6 189 L396.4 194.8 L404.2 200.6 L412.1 206.4 L419.9 212.1 L427.9 217.8 L435.8 223.4 L443.8 229 L451.8 234.5 L459.8 240 L467.8 245.6 L475.8 251.1 L483.9 256.6 L491.9 262.1 L499.9 267.6 L507.9 273.1 L516 278.6 L524 284 L532.1 289.5 L540.1 295 L548.2 300.4 L556.3 305.8 L564.4 311.2 L572.5 316.6 L580.6 321.9 L588.7 327.3 L596.9 332.7 L605 338 L613.1 343.4 L621.3 348.7 L629.4 354.1 L637.5 359.4" fill="none" stroke="#050505" stroke-width="5.9" stroke-linecap="round" stroke-linejoin="round" class="tp"/>
<path d="M345 138.5 L347.6 148 L352.5 156 L359.6 163 L366.5 169.9 L373.6 176.6 L381 183 L388.6 189 L396.4 194.8 L404.2 200.6 L412.1 206.4 L419.9 212.1 L427.9 217.8 L435.8 223.4 L443.8 229 L451.8 234.5 L459.8 240 L467.8 245.6 L475.8 251.1 L483.9 256.6 L491.9 262.1 L499.9 267.6 L507.9 273.1 L516 278.6 L524 284 L532.1 289.5 L540.1 295 L548.2 300.4 L556.3 305.8 L564.4 311.2 L572.5 316.6 L580.6 321.9 L588.7 327.3 L596.9 332.7" fill="none" stroke="#050505" stroke-width="6.3" stroke-linecap="round" stroke-linejoin="round" class="tp"/>
<path d="M345 138.5 L347.6 148 L352.5 156 L359.6 163 L366.5 169.9 L373.6 176.6 L381 183 L388.6 189 L396.4 194.8 L404.2 200.6 L412.1 206.4 L419.9 212.1 L427.9 217.8 L435.8 223.4 L443.8 229 L451.8 234.5 L459.8 240 L467.8 245.6 L475.8 251.1 L483.9 256.6 L491.9 262.1 L499.9 267.6" fill="none" stroke="#050505" stroke-width="6.6" stroke-linecap="round" stroke-linejoin="round" class="tp"/>
<path d="M345 138.5 L347.6 148 L352.5 156 L359.6 163 L366.5 169.9 L373.6 176.6 L381 183 L388.6 189 L396.4 194.8" fill="none" stroke="#050505" stroke-width="6.9" stroke-linecap="round" stroke-linejoin="round" class="tp"/>
<path d="M345 138.5 L343.9 147.3 L349.5 155.1 L355.6 162.4 L361.9 169.2 L368.5 175.8 L375.4 182 L382.4 188.1 L389.7 193.9 L397 199.6 L404.4 205.3 L411.8 210.9 L419.2 216.5 L426.7 221.9 L434.3 227.3 L441.9 232.7 L449.4 238.1 L457 243.5 L464.5 249 L472.1 254.3 L479.7 259.7 L487.3 265.1 L494.8 270.5 L502.4 275.8 L510 281.2 L517.6 286.5 L525.3 291.8 L532.9 297.1 L540.5 302.4 L548.2 307.7 L555.8 313 L563.5 318.2 L571.2 323.4 L578.9 328.7 L586.6 333.9 L594.3 339.1 L602 344.2 L609.7 349.4 L617.4 354.6 L625.1 359.8 L632.8 365 L640.5 370.2 L648.2 375.4 L655.9 380.7 L663.6 385.9 L671.2 391.2 L678.9 396.4 L686.5 401.7 L694.1 407 L701.8 412.3 L709.4 417.6 L717 423 L724.6 428.3 L732.3 433.6 L739.9 438.9 L747.5 444.3 L755.1 449.6 L762.7 455 L770.2 460.4 L777.8 465.8 L785.4 471.2 L792.9 476.6 L800.4 482 L808 487.5 L815.5 493 L822.9 498.5 L830.4 504 L837.9 509.5 L845.3 515.1 L852.8 520.6 L860.2 526.2 L867.7 531.8 L875.1 537.4 L882.5 543 L889.9 548.6 L897.3 554.3 L904.6 560 L912 565.7 L919.3 571.4 L926.6 577.1 L933.9 582.9 L941.1 588.7 L948.3 594.6 L955.5 600.4 L962.7 606.3 L969.8 612.3 L976.9 618.3 L984 624.3 L991 630.4 L998 636.5 L1005 642.6 L1012 648.7 L1018.9 654.9 L1025.9 661.1 L1032.9 667.2 L1039.8 673.4 L1046.7 679.6 L1053.7 685.8 L1060.7 691.9 L1067.6 698.1 L1074.6 704.2 L1081.6 710.4 L1088.5 716.6 L1095.4 722.7 L1102.4 728.9 L1109.3 735.1 L1116.2 741.3 L1123.1 747.5 L1130.1 753.7 L1137 759.9 L1143.9 766.1 L1150.9 772.3 L1157.8 778.4 L1164.8 784.6 L1171.8 790.7 L1178.8 796.8 L1185.8 802.9 L1192.8 809 L1199.9 815 L1207 821" fill="none" stroke="#050505" stroke-width="4.2" stroke-linecap="round" stroke-linejoin="round"/>
<path d="M345 138.5 L343.9 147.3 L349.5 155.1 L355.6 162.4 L361.9 169.2 L368.5 175.8 L375.4 182 L382.4 188.1 L389.7 193.9 L397 199.6 L404.4 205.3 L411.8 210.9 L419.2 216.5 L426.7 221.9 L434.3 227.3 L441.9 232.7 L449.4 238.1 L457 243.5 L464.5 249 L472.1 254.3 L479.7 259.7 L487.3 265.1 L494.8 270.5 L502.4 275.8 L510 281.2 L517.6 286.5 L525.3 291.8 L532.9 297.1 L540.5 302.4 L548.2 307.7 L555.8 313 L563.5 318.2 L571.2 323.4 L578.9 328.7 L586.6 333.9 L594.3 339.1 L602 344.2 L609.7 349.4 L617.4 354.6 L625.1 359.8 L632.8 365 L640.5 370.2 L648.2 375.4 L655.9 380.7 L663.6 385.9 L671.2 391.2 L678.9 396.4 L686.5 401.7 L694.1 407 L701.8 412.3 L709.4 417.6" fill="none" stroke="#050505" stroke-width="4.5" stroke-linecap="round" stroke-linejoin="round" class="tp"/>
<path d="M345 138.5 L343.9 147.3 L349.5 155.1 L355.6 162.4 L361.9 169.2 L368.5 175.8 L375.4 182 L382.4 188.1 L389.7 193.9 L397 199.6 L404.4 205.3 L411.8 210.9 L419.2 216.5 L426.7 221.9 L434.3 227.3 L441.9 232.7 L449.4 238.1 L457 243.5 L464.5 249 L472.1 254.3 L479.7 259.7 L487.3 265.1 L494.8 270.5 L502.4 275.8 L510 281.2 L517.6 286.5 L525.3 291.8 L532.9 297.1 L540.5 302.4 L548.2 307.7 L555.8 313 L563.5 318.2 L571.2 323.4 L578.9 328.7 L586.6 333.9 L594.3 339.1 L602 344.2 L609.7 349.4 L617.4 354.6 L625.1 359.8 L632.8 365 L640.5 370.2 L648.2 375.4 L655.9 380.7 L663.6 385.9 L671.2 391.2 L678.9 396.4" fill="none" stroke="#050505" stroke-width="4.9" stroke-linecap="round" stroke-linejoin="round" class="tp"/>
<path d="M345 138.5 L343.9 147.3 L349.5 155.1 L355.6 162.4 L361.9 169.2 L368.5 175.8 L375.4 182 L382.4 188.1 L389.7 193.9 L397 199.6 L404.4 205.3 L411.8 210.9 L419.2 216.5 L426.7 221.9 L434.3 227.3 L441.9 232.7 L449.4 238.1 L457 243.5 L464.5 249 L472.1 254.3 L479.7 259.7 L487.3 265.1 L494.8 270.5 L502.4 275.8 L510 281.2 L517.6 286.5 L525.3 291.8 L532.9 297.1 L540.5 302.4 L548.2 307.7 L555.8 313 L563.5 318.2 L571.2 323.4 L578.9 328.7 L586.6 333.9 L594.3 339.1 L602 344.2 L609.7 349.4 L617.4 354.6 L625.1 359.8 L632.8 365 L640.5 370.2 L648.2 375.4 L655.9 380.7" fill="none" stroke="#050505" stroke-width="5.4" stroke-linecap="round" stroke-linejoin="round" class="tp"/>
<path d="M345 138.5 L343.9 147.3 L349.5 155.1 L355.6 162.4 L361.9 169.2 L368.5 175.8 L375.4 182 L382.4 188.1 L389.7 193.9 L397 199.6 L404.4 205.3 L411.8 210.9 L419.2 216.5 L426.7 221.9 L434.3 227.3 L441.9 232.7 L449.4 238.1 L457 243.5 L464.5 249 L472.1 254.3 L479.7 259.7 L487.3 265.1 L494.8 270.5 L502.4 275.8 L510 281.2 L517.6 286.5 L525.3 291.8 L532.9 297.1 L540.5 302.4 L548.2 307.7 L555.8 313 L563.5 318.2 L571.2 323.4 L578.9 328.7 L586.6 333.9 L594.3 339.1 L602 344.2 L609.7 349.4 L617.4 354.6 L625.1 359.8 L632.8 365" fill="none" stroke="#050505" stroke-width="5.9" stroke-linecap="round" stroke-linejoin="round" class="tp"/>
<path d="M345 138.5 L343.9 147.3 L349.5 155.1 L355.6 162.4 L361.9 169.2 L368.5 175.8 L375.4 182 L382.4 188.1 L389.7 193.9 L397 199.6 L404.4 205.3 L411.8 210.9 L419.2 216.5 L426.7 221.9 L434.3 227.3 L441.9 232.7 L449.4 238.1 L457 243.5 L464.5 249 L472.1 254.3 L479.7 259.7 L487.3 265.1 L494.8 270.5 L502.4 275.8 L510 281.2 L517.6 286.5 L525.3 291.8 L532.9 297.1 L540.5 302.4 L548.2 307.7 L555.8 313 L563.5 318.2 L571.2 323.4 L578.9 328.7 L586.6 333.9 L594.3 339.1" fill="none" stroke="#050505" stroke-width="6.3" stroke-linecap="round" stroke-linejoin="round" class="tp"/>
<path d="M345 138.5 L343.9 147.3 L349.5 155.1 L355.6 162.4 L361.9 169.2 L368.5 175.8 L375.4 182 L382.4 188.1 L389.7 193.9 L397 199.6 L404.4 205.3 L411.8 210.9 L419.2 216.5 L426.7 221.9 L434.3 227.3 L441.9 232.7 L449.4 238.1 L457 243.5 L464.5 249 L472.1 254.3 L479.7 259.7 L487.3 265.1 L494.8 270.5" fill="none" stroke="#050505" stroke-width="6.6" stroke-linecap="round" stroke-linejoin="round" class="tp"/>
<path d="M345 138.5 L343.9 147.3 L349.5 155.1 L355.6 162.4 L361.9 169.2 L368.5 175.8 L375.4 182 L382.4 188.1 L389.7 193.9 L397 199.6" fill="none" stroke="#050505" stroke-width="6.9" stroke-linecap="round" stroke-linejoin="round" class="tp"/>
<path d="M1640 860h0.01M1624.9 866.1h0.01M1609.6 871.9h0.01M1594.3 877.5h0.01M1578.9 882.8h0.01M1563.4 887.9h0.01M1548.2 893.3h0.01M1533 898.9h0.01M1517.5 903.4h0.01M1501.5 905.2h0.01M1487.1 905.2h0.01M1472.6 905.2h0.01M1458.2 905.1h0.01M1443.8 905h0.01M1429.3 905h0.01M1414.9 904.8h0.01M1400.5 904.7h0.01M1384.6 902.9h0.01M1369.4 898.3h0.01M1354.6 892.2h0.01M1340.1 885.6h0.01M1325.5 879.2h0.01M1311.3 873.2h0.01M1297.4 866.7h0.01M1283.6 859.9h0.01M1269.8 852.9h0.01M1256.1 846h0.01M1243.8 839.9h0.01M1231.5 833.7h0.01M1219.2 827.4h0.01M1207 821h0.01M1515 776h0.01M1502.1 781.3h0.01M1489.2 786.5h0.01M1476.2 791.5h0.01M1463.1 796.3h0.01M1450 801h0.01M1433.7 807.4h0.01M1417.3 813.5h0.01M1400.2 817h0.01M1384.9 817.9h0.01M1369.6 818.6h0.01M1354.3 819.2h0.01M1339 819.6h0.01M1323.7 819.9h0.01M1308.4 820h0.01M1293.6 818.9h0.01M1279.1 815.9h0.01M1264.8 812h0.01M1250.6 807.9h0.01M1235.7 802.9h0.01M1221.1 797h0.01M1206.8 790.3h0.01M1192.9 782.9h0.01M1180.9 773.8h0.01M1168.1 766h0.01M1148 763h0.01M1396 695h0.01M1381.4 700h0.01M1366.9 705.1h0.01M1352.3 710.1h0.01M1337.8 715.1h0.01M1323.4 721h0.01M1309 726.8h0.01M1293.8 730h0.01M1279.9 730.6h0.01M1266 731.1h0.01M1252.1 731.5h0.01M1238.1 731.8h0.01M1224.2 731.9h0.01M1210.3 732h0.01M1193.4 731.1h0.01M1176.7 728.9h0.01M1160 726h0.01M1144.9 722.3h0.01M1130.3 717.3h0.01M1115.9 711.5h0.01M1103.2 704h0.01M1090.1 697h0.01M1072 693h0.01M1250 614h0.01M1235.2 621h0.01M1220 627h0.01M1204.2 632.1h0.01M1188.2 636.5h0.01M1171.9 640h0.01M1158.1 642.7h0.01M1144.3 645.3h0.01M1130.4 647.2h0.01M1116.3 648h0.01M1102.1 647h0.01M1088 645h0.01M1070 641.1h0.01M1052.2 636h0.01M1036.8 631.2h0.01M1021.5 626.1h0.01M1005.9 622h0.01M990.5 619.1h0.01M975 617h0.01M1082 528h0.01M1067.6 533.8h0.01M1053 538.8h0.01M1038 543h0.01M1023.1 546.9h0.01M1007.9 549h0.01M994.5 549h0.01M981.2 549h0.01M967.9 549h0.01M953.9 548.2h0.01M939.9 546.3h0.01M926.1 544h0.01M914.4 541.8h0.01M902.8 539h0.01M887.3 534.4h0.01M872 529h0.01M900 434h0.01M885.7 439.2h0.01M871.1 443.2h0.01M856.2 446h0.01M834 448h0.01M818.9 447.4h0.01M803.9 446h0.01M791.9 444.2h0.01M779.9 442h0.01M768 439.4h0.01M756.1 437h0.01M738 435h0.01M655 319h0.01M640 319.5h0.01M625.9 319.5h0.01M611 320h0.01M597 320h0.01" fill="none" stroke="#1c1c1c" stroke-width="4.8" stroke-linecap="square"/>
<path d="M1640.8 858.4h0.01M1563.8 886.4h0.01M1502.8 903.6h0.01M1400.8 903.1h0.01M1325.8 877.4h0.01M1256.8 844.4h0.01M1207.8 819.4h0.01M1518.9 769.9h0.01M1452.8 796.9h0.01M1401.6 814.2h0.01M1311 816.1h0.01M1251.2 807h0.01M1192.6 782.9h0.01M1170.3 762.7h0.01M1145.4 765.1h0.01M1396.7 693.6h0.01M1338.6 713.9h0.01M1294.8 728.3h0.01M1212.2 728.8h0.01M1159.8 725.6h0.01M1113.9 713.2h0.01M1091.8 694.1h0.01M1068.4 696.5h0.01M1250.4 613h0.01M1171.7 640.2h0.01M1113.6 650.5h0.01M1051.6 635.9h0.01M1006.1 621.3h0.01M976 615.3h0.01M1082.5 527.2h0.01M1013.4 539.8h0.01M968.9 547h0.01M927.3 541.7h0.01M901.1 540.8h0.01M869.8 531.2h0.01M899.2 435.8h0.01M855.6 446.3h0.01M807 440.8h0.01M780.9 440.2h0.01M755.7 436.9h0.01M737.6 435.2h0.01M654.5 319.5h0.01M639.1 321h0.01M628.6 314.9h0.01M611 319.8h0.01M596 321h0.01" fill="none" stroke="#050505" stroke-width="5.8" stroke-linecap="round"/>
<path d="M381 317 L387.2 320.3 L393.3 323.7 L399.5 327.1 L405.6 330.4 L411.8 333.8 L417.9 337.2 L424 340.6 L430.2 344 L436.3 347.4 L442.4 350.8 L448.5 354.2 L454.7 357.6 L460.8 361.1 L466.9 364.5 L473 367.9 L479.1 371.4 L485.2 374.8 L491.4 378.2 L497.5 381.6 L503.6 385.1 L509.7 388.5 L515.8 392 L521.9 395.5 L528 399 L534 402.5 L540.1 406 L546.1 409.6 L552.1 413.2 L558.1 416.8 L564.1 420.5 L570 424.2 L575.9 428 L581.8 431.8 L587.7 435.6 L593.5 439.5 L599.4 443.4 L605.2 447.3 L611 451.2 L616.8 455.1 L622.6 459 L628.5 462.9 L634.3 466.8 L640.1 470.7 L645.9 474.6 L651.8 478.5 L657.6 482.4 L663.5 486.2 L669.4 490.1 L675.2 493.9 L681.1 497.8 L686.9 501.7 L692.8 505.5 L698.6 509.4 L704.4 513.3 L710.2 517.3 L716 521.2 L721.7 525.2 L727.5 529.2 L733.2 533.3 L738.9 537.3 L744.6 541.4 L750.3 545.5 L756 549.6 L761.7 553.7 L767.4 557.8 L773 561.9 L778.7 566.1 L784.3 570.2 L790 574.4 L795.6 578.6 L801.2 582.7 L806.9 586.9 L812.5 591.1 L818.2 595.3 L823.8 599.4 L829.4 603.6 L835.1 607.8 L840.7 611.9 L846.4 616.1 L852 620.2 L857.7 624.3 L863.4 628.4 L869.1 632.6 L874.8 636.6 L880.5 640.7 L886.2 644.8 L891.9 648.9 L897.6 653 L903.3 657.1 L909 661.1 L914.7 665.2 L920.4 669.3 L926.1 673.4 L931.8 677.5 L937.4 681.6 L943.1 685.7 L948.8 689.8 L954.4 694 L960.1 698.1 L965.7 702.3 L971.3 706.5 L976.9 710.7 L982.5 714.9 L988.1 719.1 L993.7 723.4 L999.2 727.7 L1004.8 731.9 L1010.4 736.2 L1015.9 740.5 L1021.4 744.8 L1027 749.1 L1032.5 753.4 L1038 757.7 L1043.5 762.1 L1049 766.4 L1054.6 770.7 L1060.1 775.1 L1065.6 779.4 L1071.1 783.7 L1076.6 788.1 L1082.1 792.4 L1087.6 796.7 L1093.1 801.1 L1098.7 805.4 L1104.2 809.7 L1109.7 814 L1115.3 818.3 L1120.8 822.6 L1126.3 826.9 L1131.9 831.2 L1137.5 835.5 L1143 839.7 L1148.6 843.9 L1154.2 848.2 L1159.8 852.4 L1165.4 856.6 L1171 860.8 L1176.6 865 L1182.3 869.2 L1187.9 873.4 L1193.5 877.5 L1199.2 881.7 L1204.8 885.9 L1210.5 890 L1216.1 894.1 L1221.8 898.3 L1227.5 902.4 L1233.1 906.5 L1238.8 910.6 L1244.5 914.7 L1250.2 918.8 L1255.9 922.9 L1261.5 927 L1267.2 931.2 L1272.9 935.3 L1278.5 939.5 L1284.1 943.6 L1289.8 947.8 L1295.4 952 L1301 956.2 L1306.7 960.4 L1312.3 964.5 L1318 968.6 L1323.7 972.7 L1329.4 976.7 L1335.2 980.7 L1340.9 984.8 L1346.7 988.8 L1352.4 992.8 L1358.2 996.8 L1364 1000.7 L1369.9 1004.6 L1375.8 1008.4 L1381.7 1012.1 L1387.6 1015.8 L1393.7 1019.3 L1399.8 1022.7 L1406 1026.1 L1412.2 1029.4 L1418.4 1032.7 L1424.5 1036 L1430.7 1039.3 L1436.9 1042.7 L1443.2 1045.8 L1449.5 1048.8 L1455.9 1051.6 L1462.4 1054.4 L1469 1057 L1475.6 1059.3 L1482.3 1061.1 L1489.1 1062.7 L1496 1064.2 L1503 1065.4 L1510 1066 L1516.9 1066 L1523.9 1066 L1530.9 1066 L1538 1066 L1545 1066" fill="none" stroke="#050505" stroke-width="3.9" stroke-dasharray="18 8 4.5 7.5"/>
<path d="M816 360.5C800 368 776 372.5 750 372.5L640 373" fill="none" stroke="#050505" stroke-width="6.3" stroke-linecap="round"/>
<path d="M615 373L652 363L648 373L652 383Z" fill="#050505" stroke="#050505" stroke-width="2" stroke-linejoin="round"/>
</g>
</svg>
</body>
</html>
